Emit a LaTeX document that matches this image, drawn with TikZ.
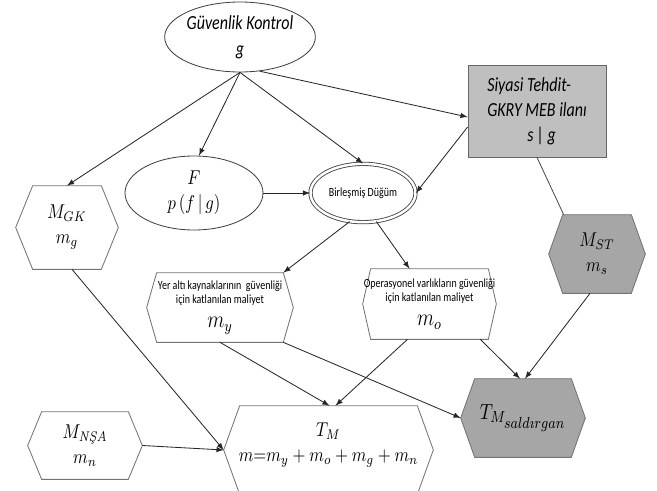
\documentclass[tikz,border=0pt]{standalone}
\usepackage{amsmath}
\usepackage{graphicx}
\usepackage{fontspec}
\setmainfont[FakeStretch=0.8]{Carlito}
\newfontfamily\lmfont{Latin Modern Roman}
\usetikzlibrary{shapes.geometric,calc,backgrounds}

\tikzset{
  hexnode/.style={rectangle, inner sep=0pt, align=center, font=\fontsize{10}{15}\selectfont},
  oval/.style={ellipse, draw=black!75, line width=0.5pt, inner sep=0pt, align=center},
  arr/.style={->, draw=black!85, line width=0.5pt},
  link/.style={draw=black!70, line width=0.5pt},
  smalltext/.style={font=\fontsize{7.5}{8.5}\selectfont},
}

% taller math, as in the figure
\newcommand{\vmath}[1]{\scalebox{1}[1.2]{$#1$}}

% hexagon round a rectangle node: name, point depth, fill
\newcommand{\hexframe}[3]{%
  \begin{pgfonlayer}{background}
  \filldraw[fill=#3, draw=black!55, line width=0.5pt]
    ($(#1.north west)+(#2,0)$) -- ($(#1.north east)+(-#2,0)$) -- (#1.east)
    -- ($(#1.south east)+(-#2,0)$) -- ($(#1.south west)+(#2,0)$) -- (#1.west) -- cycle;
  \end{pgfonlayer}}

\begin{document}
\begin{tikzpicture}[x=0.6pt, y=-0.6pt, >=latex]
\useasboundingbox (0,0) rectangle (657,491);

% top part
\node[oval, minimum width=84pt, minimum height=42pt, font=\itshape\fontsize{12}{15.6}\selectfont] (g) at (240,37) {Güvenlik Kontrol\\g};
\node[draw=black!60, fill=black!25, line width=0.5pt, minimum width=82.8pt, minimum height=55.2pt, align=left, font=\itshape\fontsize{12}{15}\selectfont] (s) at (537,111) {Siyasi Tehdit-\\GKRY MEB ilanı\\\hspace*{24pt}s\,|\,g};
\node[oval, minimum width=82.8pt, minimum height=44.4pt, font=\fontsize{10}{15}\selectfont] (f) at (194,193) {\vmath{F}\\\vmath{p\,(f\,|\,g)}};
\node[oval, double=white, double distance=1.5pt, minimum width=63pt, minimum height=35pt, smalltext] (b) at (363,193) {Birleşmiş Düğüm};

% hexagons
\node[hexnode, minimum width=61.2pt, minimum height=49.8pt] (mgk) at (67,227.5) {\vmath{M_{GK}}\\\vmath{m_g}};
\node[hexnode, minimum width=57.6pt, minimum height=46.8pt] (mst) at (597,254) {\vmath{M_{ST}}\\\vmath{m_s}};
\node[hexnode, minimum width=87.6pt, minimum height=41.4pt, smalltext] (yer) at (220,307.5) {Yer altı kaynaklarının\ \ güvenliği\\için katlanılan maliyet\\[6pt]{\fontsize{12}{12}\selectfont\vmath{m_y}}};
\node[hexnode, minimum width=79.8pt, minimum height=42pt, smalltext] (ops) at (429.5,304) {Operasyonel varlıkların güvenliği\\için katlanılan maliyet\\[6pt]{\fontsize{12}{12}\selectfont\vmath{m_o}}};
\node[hexnode, minimum width=74.4pt, minimum height=46.8pt, font=\fontsize{11}{13}\selectfont] (tsal) at (523,418) {\vmath{T_{M_{\scriptstyle sald\imath rgan}}}};
\node[hexnode, minimum width=125.4pt, minimum height=52.8pt, text depth=10pt] (tm) at (328.5,450) {\vmath{T_M}\\\vmath{m{=}m_y+m_o+m_g+m_n}};
\node[hexnode, minimum width=68.4pt, minimum height=40.2pt] (mns) at (85,445.5) {\vmath{M_{\text{\lmfont\itshape NŞA}}}\\\vmath{m_n}};

\hexframe{mgk}{17}{white}
\hexframe{mst}{14}{black!35}
\hexframe{yer}{10}{white}
\hexframe{ops}{8}{white}
\hexframe{tsal}{14}{black!35}
\hexframe{tm}{16}{white}
\hexframe{mns}{14}{white}

% connectors
\draw[arr] (g.south) -- (mgk.north);
\draw[arr] (g.south) -- ($(f.north)+(5,0)$);
\draw[arr] (g.south) -- (b.north);
\draw[arr] (g.-60) -- ($(s.west)+(0,6)$);
\draw[arr] ($(s.west)+(0,16)$) -- (b.east);
\draw[arr] (f) -- (b);
\draw[arr] (b.-115) -- ($(yer.north east)+(-10,0)$);
\draw[arr] (b.-65) -- ($(ops.north)+(-20,0)$);
\draw[link] (s.south) -- ($(mst.north west)+(15,0)$);
\draw[arr] ($(mst.south)+(-7,0)$) -- ($(tsal.north)+(2,0)$);
\draw[arr] ($(ops.south east)+(-16,0)$) -- ($(tsal.north)+(-3,0)$);
\draw[arr] ($(yer.south east)+(-10,0)$) -- (tsal.west);
\draw[arr] (yer.south) -- ($(tm.north)+(1,0)$);
\draw[arr] ($(ops.south)+(-22,0)$) -- ($(tm.north)+(7,0)$);
\draw[arr] ($(mgk.south)+(5,0)$) -- (tm.west);
\draw[arr] (mns.east) -- (tm.west);
\end{tikzpicture}
\end{document}
